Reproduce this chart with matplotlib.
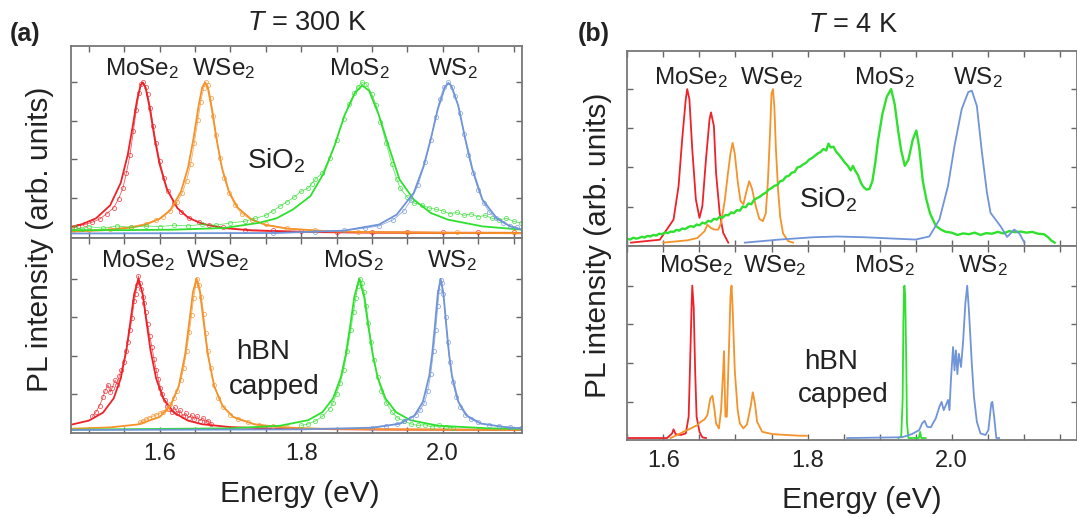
import numpy as np
import matplotlib
matplotlib.use("Agg")
import matplotlib.pyplot as plt
from matplotlib.ticker import MultipleLocator

plt.rcParams['font.family'] = ['Liberation Sans', 'DejaVu Sans']
plt.rcParams['mathtext.fontset'] = 'custom'
plt.rcParams['mathtext.rm'] = 'Liberation Sans'
plt.rcParams['mathtext.it'] = 'Liberation Sans:italic'
plt.rcParams['mathtext.bf'] = 'Liberation Sans:bold'

# ---- labels ----
materials = ['MoSe$_2$', 'WSe$_2$', 'MoS$_2$', 'WS$_2$']
colors = ['#ee2229', '#f5922a', '#2fe02f', '#7094d8']

# ---- (a) T = 300 K, on SiO2: fitted curves (energy eV, norm. intensity) ----
a_sio2_mose2_fit = [(1.474, 0.043), (1.49, 0.061), (1.51, 0.10), (1.53, 0.186), (1.545, 0.335),
                    (1.555, 0.523), (1.562, 0.712), (1.568, 0.883), (1.573, 0.981), (1.576, 1.0),
                    (1.580, 0.968), (1.586, 0.829), (1.593, 0.626), (1.60, 0.457), (1.61, 0.295),
                    (1.625, 0.168), (1.64, 0.106), (1.66, 0.064), (1.69, 0.036), (1.73, 0.020),
                    (1.80, 0.010), (1.90, 0.005), (2.0, 0.003), (2.112, 0.002)]
a_sio2_wse2_fit = [(1.474, 0.012), (1.52, 0.021), (1.56, 0.039), (1.58, 0.059), (1.60, 0.097),
                   (1.615, 0.155), (1.63, 0.276), (1.64, 0.434), (1.648, 0.633), (1.655, 0.845),
                   (1.66, 0.965), (1.664, 1.0), (1.668, 0.965), (1.674, 0.815), (1.68, 0.633),
                   (1.688, 0.434), (1.698, 0.276), (1.71, 0.172), (1.73, 0.092), (1.75, 0.056),
                   (1.78, 0.032), (1.84, 0.014), (1.90, 0.008), (2.0, 0.004), (2.112, 0.002)]
a_sio2_mos2_fit = [(1.474, 0.022), (1.55, 0.022), (1.618, 0.025), (1.691, 0.036), (1.740, 0.07),
                   (1.765, 0.10), (1.788, 0.158), (1.813, 0.247), (1.832, 0.40), (1.847, 0.58),
                   (1.861, 0.78), (1.876, 0.93), (1.886, 0.98), (1.896, 0.945), (1.910, 0.78),
                   (1.925, 0.557), (1.939, 0.357), (1.959, 0.225), (1.983, 0.136), (2.007, 0.092),
                   (2.056, 0.047), (2.112, 0.025)]
a_sio2_ws2_fit = [(1.474, 0.0), (1.764, 0.003), (1.861, 0.019), (1.910, 0.059), (1.935, 0.125),
                  (1.959, 0.269), (1.973, 0.446), (1.983, 0.623), (1.993, 0.823), (2.003, 0.967),
                  (2.008, 0.996), (2.012, 0.978), (2.022, 0.845), (2.032, 0.623), (2.042, 0.424),
                  (2.056, 0.225), (2.076, 0.103), (2.095, 0.048), (2.112, 0.025)]

# ---- (a) T = 300 K, on SiO2: measured points ----
a_sio2_mose2_data = [(1.476, 0.035), (1.485, 0.05), (1.495, 0.06), (1.505, 0.075), (1.515, 0.095),
                     (1.525, 0.13), (1.535, 0.17), (1.542, 0.23), (1.548, 0.30), (1.553, 0.40),
                     (1.558, 0.52), (1.563, 0.68), (1.567, 0.82), (1.571, 0.93), (1.574, 0.99),
                     (1.577, 1.00), (1.580, 0.97), (1.583, 0.92), (1.587, 0.83), (1.591, 0.71),
                     (1.595, 0.60), (1.600, 0.48), (1.606, 0.37), (1.612, 0.28), (1.620, 0.20),
                     (1.630, 0.145), (1.642, 0.10), (1.655, 0.075), (1.67, 0.055), (1.69, 0.04),
                     (1.72, 0.025), (1.76, 0.02), (1.80, 0.015), (1.85, 0.012), (1.90, 0.01),
                     (1.95, 0.01), (2.00, 0.008), (2.05, 0.008), (2.10, 0.007)]
a_sio2_wse2_data = [(1.476, 0.015), (1.50, 0.02), (1.53, 0.03), (1.56, 0.045), (1.58, 0.065),
                    (1.595, 0.09), (1.605, 0.11), (1.615, 0.15), (1.625, 0.21), (1.632, 0.27),
                    (1.638, 0.35), (1.644, 0.46), (1.649, 0.60), (1.654, 0.75), (1.658, 0.87),
                    (1.662, 0.96), (1.665, 1.0), (1.668, 0.98), (1.672, 0.90), (1.676, 0.78),
                    (1.680, 0.65), (1.685, 0.50), (1.691, 0.37), (1.698, 0.27), (1.706, 0.19),
                    (1.716, 0.13), (1.73, 0.09), (1.75, 0.06), (1.78, 0.035), (1.82, 0.02),
                    (1.88, 0.012), (1.95, 0.01), (2.02, 0.008), (2.10, 0.008)]
a_sio2_mos2_data = [(1.48, 0.04), (1.49, 0.03), (1.50, 0.045), (1.52, 0.035), (1.54, 0.05),
                    (1.56, 0.04), (1.58, 0.05), (1.60, 0.045), (1.62, 0.055), (1.64, 0.05),
                    (1.66, 0.06), (1.68, 0.055), (1.70, 0.07), (1.72, 0.08), (1.735, 0.10),
                    (1.75, 0.12), (1.76, 0.15), (1.77, 0.18), (1.78, 0.21), (1.79, 0.24),
                    (1.80, 0.28), (1.81, 0.30), (1.815, 0.33), (1.82, 0.36), (1.83, 0.40),
                    (1.84, 0.50), (1.85, 0.62), (1.86, 0.76), (1.868, 0.86), (1.875, 0.93),
                    (1.88, 0.97), (1.886, 1.0), (1.892, 0.99), (1.90, 0.92), (1.906, 0.85),
                    (1.912, 0.74), (1.92, 0.60), (1.928, 0.46), (1.935, 0.36), (1.94, 0.30),
                    (1.95, 0.24), (1.96, 0.20), (1.97, 0.19), (1.98, 0.17), (1.99, 0.16),
                    (2.00, 0.15), (2.01, 0.13), (2.02, 0.14), (2.03, 0.12), (2.04, 0.13),
                    (2.05, 0.11), (2.06, 0.12), (2.07, 0.10), (2.08, 0.09), (2.09, 0.10),
                    (2.10, 0.08), (2.11, 0.07)]
a_sio2_ws2_data = [(1.76, 0.005), (1.82, 0.01), (1.86, 0.02), (1.89, 0.035), (1.91, 0.05),
                   (1.93, 0.09), (1.945, 0.15), (1.955, 0.22), (1.965, 0.32), (1.975, 0.47),
                   (1.983, 0.62), (1.99, 0.77), (1.996, 0.89), (2.002, 0.97), (2.008, 1.0),
                   (2.013, 0.97), (2.018, 0.91), (2.024, 0.80), (2.03, 0.66), (2.036, 0.52),
                   (2.043, 0.40), (2.05, 0.29), (2.058, 0.20), (2.066, 0.14), (2.075, 0.10),
                   (2.085, 0.07), (2.095, 0.05), (2.105, 0.04)]

# ---- (a) T = 300 K, hBN capped: fitted curves ----
a_hbn_mose2_fit = [(1.474, 0.034), (1.50, 0.062), (1.52, 0.115), (1.535, 0.209), (1.545, 0.341),
                   (1.553, 0.529), (1.559, 0.728), (1.564, 0.90), (1.570, 1.0), (1.576, 0.90),
                   (1.581, 0.728), (1.587, 0.529), (1.595, 0.341), (1.605, 0.209), (1.62, 0.115),
                   (1.64, 0.062), (1.66, 0.038), (1.70, 0.019), (1.76, 0.009), (1.90, 0.003),
                   (2.112, 0.001)]
a_hbn_wse2_fit = [(1.474, 0.008), (1.53, 0.017), (1.57, 0.037), (1.60, 0.086), (1.615, 0.158),
                  (1.627, 0.29), (1.636, 0.5), (1.642, 0.719), (1.647, 0.911), (1.652, 1.0),
                  (1.657, 0.911), (1.662, 0.719), (1.668, 0.5), (1.677, 0.29), (1.689, 0.158),
                  (1.704, 0.086), (1.734, 0.037), (1.774, 0.017), (1.83, 0.008), (1.95, 0.003),
                  (2.112, 0.001)]
a_hbn_mos2_fit = [(1.474, 0.002), (1.70, 0.011), (1.77, 0.028), (1.81, 0.065), (1.83, 0.118),
                  (1.845, 0.209), (1.856, 0.348), (1.863, 0.5), (1.869, 0.681), (1.875, 0.88),
                  (1.882, 1.0), (1.889, 0.88), (1.895, 0.681), (1.901, 0.5), (1.908, 0.348),
                  (1.919, 0.209), (1.934, 0.118), (1.954, 0.065), (1.994, 0.028), (2.064, 0.011),
                  (2.112, 0.007)]
a_hbn_ws2_fit = [(1.474, 0.0), (1.80, 0.004), (1.90, 0.015), (1.94, 0.042), (1.96, 0.095),
                 (1.972, 0.187), (1.981, 0.36), (1.985, 0.5), (1.989, 0.692), (1.993, 0.90),
                 (1.997, 1.0), (2.001, 0.90), (2.005, 0.692), (2.009, 0.5), (2.013, 0.36),
                 (2.022, 0.187), (2.034, 0.095), (2.054, 0.042), (2.094, 0.015), (2.112, 0.012)]

# ---- (a) T = 300 K, hBN capped: measured points ----
a_hbn_mose2_data = [(1.505, 0.09), (1.51, 0.12), (1.515, 0.16), (1.52, 0.22), (1.523, 0.26),
                    (1.527, 0.30), (1.53, 0.25), (1.533, 0.28), (1.537, 0.33), (1.54, 0.30),
                    (1.543, 0.36), (1.546, 0.40), (1.549, 0.45), (1.552, 0.52), (1.555, 0.58),
                    (1.558, 0.66), (1.561, 0.74), (1.564, 0.85), (1.566, 0.90), (1.568, 0.96),
                    (1.570, 1.02), (1.572, 0.97), (1.574, 0.93), (1.576, 0.88), (1.578, 0.84),
                    (1.580, 0.78), (1.583, 0.70), (1.586, 0.62), (1.589, 0.55), (1.592, 0.47),
                    (1.595, 0.40), (1.598, 0.34), (1.601, 0.28), (1.604, 0.24), (1.607, 0.20),
                    (1.610, 0.16), (1.613, 0.14), (1.617, 0.12), (1.621, 0.15), (1.625, 0.11),
                    (1.629, 0.13), (1.633, 0.09), (1.637, 0.11), (1.641, 0.08), (1.645, 0.10),
                    (1.649, 0.07), (1.653, 0.09), (1.657, 0.06), (1.661, 0.08), (1.665, 0.05),
                    (1.669, 0.06), (1.673, 0.04)]
a_hbn_wse2_data = [(1.572, 0.05), (1.576, 0.06), (1.58, 0.07), (1.585, 0.08), (1.59, 0.09),
                   (1.595, 0.10), (1.60, 0.11), (1.605, 0.12), (1.61, 0.14), (1.615, 0.17),
                   (1.62, 0.21), (1.625, 0.26), (1.63, 0.33), (1.634, 0.41), (1.638, 0.52),
                   (1.642, 0.65), (1.645, 0.76), (1.648, 0.87), (1.651, 0.96), (1.653, 1.0),
                   (1.656, 0.96), (1.659, 0.88), (1.662, 0.77), (1.665, 0.64), (1.668, 0.52),
                   (1.672, 0.41), (1.677, 0.30), (1.683, 0.21), (1.69, 0.15), (1.70, 0.10),
                   (1.71, 0.07), (1.725, 0.05), (1.74, 0.035), (1.76, 0.025), (1.78, 0.02)]
a_hbn_mos2_data = [(1.80, 0.03), (1.81, 0.04), (1.82, 0.06), (1.83, 0.09), (1.84, 0.14),
                   (1.845, 0.18), (1.85, 0.24), (1.855, 0.31), (1.86, 0.40), (1.865, 0.52),
                   (1.87, 0.66), (1.874, 0.78), (1.877, 0.87), (1.88, 0.95), (1.883, 1.0),
                   (1.886, 0.97), (1.889, 0.91), (1.892, 0.82), (1.895, 0.71), (1.899, 0.58),
                   (1.903, 0.46), (1.908, 0.35), (1.913, 0.26), (1.92, 0.18), (1.928, 0.12),
                   (1.936, 0.08), (1.945, 0.06), (1.955, 0.04), (1.965, 0.03), (1.975, 0.035),
                   (1.985, 0.02), (1.995, 0.03), (2.005, 0.02), (2.015, 0.015)]
a_hbn_ws2_data = [(1.90, 0.015), (1.92, 0.025), (1.935, 0.04), (1.945, 0.06), (1.955, 0.08),
                  (1.962, 0.10), (1.968, 0.13), (1.974, 0.18), (1.979, 0.26), (1.983, 0.37),
                  (1.987, 0.52), (1.99, 0.66), (1.993, 0.82), (1.995, 0.92), (1.997, 0.99),
                  (1.999, 0.97), (2.001, 0.90), (2.004, 0.75), (2.007, 0.58), (2.01, 0.45),
                  (2.014, 0.32), (2.019, 0.22), (2.025, 0.15), (2.032, 0.10), (2.04, 0.07),
                  (2.05, 0.05), (2.065, 0.035), (2.08, 0.025), (2.095, 0.02), (2.11, 0.015)]

# ---- (b) T = 4 K, on SiO2 ----
b_sio2_mose2 = [(1.555, 0.0), (1.595, 0.019), (1.614, 0.15), (1.621, 0.368), (1.626, 0.673),
                (1.631, 0.935), (1.633, 1.0), (1.636, 0.935), (1.640, 0.608), (1.645, 0.281),
                (1.650, 0.161), (1.654, 0.237), (1.659, 0.542), (1.664, 0.804), (1.666, 0.848),
                (1.670, 0.76), (1.673, 0.455), (1.678, 0.194), (1.683, 0.063), (1.690, 0.0)]
b_sio2_wse2 = [(1.600, 0.0), (1.633, 0.015), (1.647, 0.03), (1.657, 0.074), (1.661, 0.117),
               (1.666, 0.095), (1.671, 0.085), (1.676, 0.085), (1.680, 0.128), (1.685, 0.27),
               (1.689, 0.43), (1.693, 0.58), (1.696, 0.65), (1.699, 0.58), (1.703, 0.40),
               (1.707, 0.27), (1.711, 0.25), (1.715, 0.33), (1.719, 0.40), (1.723, 0.35),
               (1.728, 0.24), (1.733, 0.155), (1.738, 0.14), (1.742, 0.19), (1.745, 0.40),
               (1.748, 0.72), (1.750, 0.97), (1.752, 1.0), (1.754, 0.88), (1.756, 0.62),
               (1.759, 0.35), (1.762, 0.17), (1.766, 0.06), (1.773, 0.01), (1.780, 0.0)]
b_sio2_mos2 = [(1.550, 0.024), (1.554, 0.02), (1.558, 0.032), (1.562, 0.026), (1.566, 0.03),
               (1.570, 0.038), (1.574, 0.033), (1.578, 0.044), (1.582, 0.04), (1.586, 0.05),
               (1.590, 0.046), (1.594, 0.058), (1.598, 0.055), (1.602, 0.066), (1.606, 0.062),
               (1.610, 0.072), (1.614, 0.07), (1.618, 0.083), (1.622, 0.078), (1.626, 0.092),
               (1.630, 0.088), (1.634, 0.10), (1.638, 0.108), (1.642, 0.102), (1.646, 0.118),
               (1.650, 0.113), (1.654, 0.13), (1.658, 0.124), (1.662, 0.142), (1.666, 0.137),
               (1.670, 0.155), (1.674, 0.15), (1.678, 0.168), (1.682, 0.162), (1.686, 0.18),
               (1.690, 0.178), (1.694, 0.197), (1.698, 0.192), (1.702, 0.212), (1.706, 0.208),
               (1.710, 0.235), (1.714, 0.23), (1.718, 0.255), (1.722, 0.25), (1.726, 0.28),
               (1.730, 0.29), (1.734, 0.30), (1.738, 0.315), (1.742, 0.325), (1.746, 0.345),
               (1.750, 0.355), (1.754, 0.37), (1.758, 0.375), (1.762, 0.40), (1.766, 0.405),
               (1.770, 0.43), (1.774, 0.435), (1.778, 0.455), (1.782, 0.46), (1.786, 0.49),
               (1.790, 0.495), (1.794, 0.51), (1.798, 0.52), (1.802, 0.54), (1.806, 0.55),
               (1.810, 0.565), (1.814, 0.58), (1.818, 0.59), (1.822, 0.61), (1.826, 0.60),
               (1.829, 0.645), (1.832, 0.62), (1.836, 0.625), (1.840, 0.59), (1.844, 0.57),
               (1.848, 0.545), (1.852, 0.52), (1.856, 0.50), (1.860, 0.47), (1.863, 0.50),
               (1.866, 0.47), (1.870, 0.44), (1.874, 0.39), (1.878, 0.36), (1.882, 0.345),
               (1.886, 0.35), (1.890, 0.40), (1.894, 0.52), (1.898, 0.67), (1.904, 0.84),
               (1.910, 0.95), (1.916, 1.0), (1.921, 0.90), (1.926, 0.72), (1.930, 0.60),
               (1.935, 0.50), (1.940, 0.54), (1.946, 0.67), (1.951, 0.73), (1.955, 0.62),
               (1.960, 0.40), (1.965, 0.28), (1.970, 0.19), (1.978, 0.11), (1.985, 0.085),
               (1.992, 0.07), (2.000, 0.065), (2.008, 0.05), (2.016, 0.06), (2.024, 0.055),
               (2.032, 0.065), (2.040, 0.05), (2.048, 0.062), (2.056, 0.058), (2.064, 0.07),
               (2.072, 0.06), (2.080, 0.075), (2.088, 0.068), (2.096, 0.072), (2.104, 0.065),
               (2.112, 0.07), (2.120, 0.058), (2.128, 0.055), (2.134, 0.035), (2.138, 0.015),
               (2.143, 0.0)]
b_sio2_ws2 = [(1.713, 0.0), (1.737, 0.01), (1.761, 0.02), (1.808, 0.035), (1.841, 0.04),
              (1.879, 0.035), (1.926, 0.025), (1.950, 0.02), (1.969, 0.04), (1.983, 0.15),
              (1.995, 0.37), (2.004, 0.63), (2.014, 0.87), (2.023, 0.98), (2.028, 0.99),
              (2.035, 0.89), (2.042, 0.59), (2.049, 0.326), (2.054, 0.194), (2.061, 0.15),
              (2.068, 0.106), (2.077, 0.037), (2.087, 0.085), (2.094, 0.06), (2.101, 0.0)]

# ---- (b) T = 4 K, hBN capped ----
b_hbn_mose2 = [(1.548, 0.0), (1.605, 0.0), (1.612, 0.03), (1.614, 0.057), (1.617, 0.025),
               (1.624, 0.02), (1.631, 0.03), (1.635, 0.14), (1.637, 0.49), (1.639, 0.858),
               (1.640, 1.0), (1.642, 0.858), (1.644, 0.444), (1.646, 0.14), (1.650, 0.041),
               (1.654, 0.004), (1.659, 0.0)]
b_hbn_wse2 = [(1.610, 0.0), (1.619, 0.02), (1.628, 0.041), (1.638, 0.063), (1.647, 0.085),
              (1.652, 0.107), (1.657, 0.122), (1.661, 0.15), (1.665, 0.26), (1.668, 0.277),
              (1.671, 0.18), (1.673, 0.096), (1.677, 0.063), (1.680, 0.183), (1.683, 0.45),
              (1.684, 0.57), (1.686, 0.14), (1.688, 0.14), (1.691, 0.597), (1.693, 0.924),
              (1.6945, 1.0), (1.696, 0.858), (1.699, 0.444), (1.703, 0.183), (1.706, 0.096),
              (1.711, 0.063), (1.716, 0.09), (1.721, 0.205), (1.724, 0.30), (1.727, 0.227),
              (1.730, 0.107), (1.737, 0.041), (1.751, 0.026), (1.770, 0.02), (1.789, 0.015),
              (1.799, 0.015)]
b_hbn_mos2 = [(1.926, 0.0), (1.930, 0.01), (1.932, 0.25), (1.933, 0.75), (1.934, 0.99),
              (1.9346, 1.0), (1.9356, 0.93), (1.937, 0.5), (1.938, 0.1), (1.940, 0.0),
              (1.9545, 0.0), (1.9563, 0.04), (1.9578, 0.0), (1.964, 0.0)]
b_hbn_ws2 = [(1.855, 0.0), (1.903, 0.003), (1.931, 0.005), (1.945, 0.026), (1.955, 0.052),
             (1.959, 0.096), (1.9625, 0.113), (1.966, 0.074), (1.971, 0.07), (1.978, 0.129),
             (1.983, 0.205), (1.986, 0.237), (1.989, 0.183), (1.992, 0.216), (1.995, 0.25),
             (1.997, 0.183), (1.999, 0.379), (2.002, 0.597), (2.004, 0.444), (2.006, 0.575),
             (2.008, 0.42), (2.010, 0.553), (2.013, 0.466), (2.016, 0.64), (2.019, 0.88),
             (2.0216, 1.0), (2.024, 0.836), (2.028, 0.488), (2.031, 0.27), (2.035, 0.107),
             (2.040, 0.03), (2.047, 0.02), (2.051, 0.052), (2.055, 0.227), (2.0565, 0.237),
             (2.059, 0.14), (2.062, 0.0), (2.066, 0.0)]


def xy(pairs):
    arr = np.array(pairs)
    return arr[:, 0], arr[:, 1]


W, H = 1077, 517
fig = plt.figure(figsize=(W / 100, H / 100), dpi=100)


def box(x0, y_top, x1, y_bot):
    return [x0 / W, 1 - y_bot / H, (x1 - x0) / W, (y_bot - y_top) / H]


yticks = [0.235, 0.49, 0.745, 1.0]


def style(ax, xlim, ylim, show_x=False):
    ax.set_xlim(xlim)
    ax.set_ylim(ylim)
    ax.xaxis.set_major_locator(MultipleLocator(0.2))
    ax.xaxis.set_minor_locator(MultipleLocator(0.05))
    ax.set_yticks(yticks)
    ax.tick_params(which='both', direction='in', top=True, right=True, length=4,
                   width=1, color='#666', labelleft=False, labelsize=17, pad=7,
                   labelcolor='#222', labelbottom=show_x)
    for s in ax.spines.values():
        s.set_color('#777')
        s.set_linewidth(1.3)


def labels(ax, xs, y):
    for x, name in zip(xs, materials):
        ax.text(x, y, name, ha='center', va='center', fontsize=17.5, color='#222')


data_kw = dict(lw=0.6, alpha=0.75, marker='o', ms=3, mfc='none', mew=0.6)

# ---------------- panel (a) ----------------
ax1 = fig.add_axes(box(70.5, 45.7, 522, 238))
ax2 = fig.add_axes(box(70.5, 238, 522, 433))

for d, f, c in zip([a_sio2_mose2_data, a_sio2_wse2_data, a_sio2_mos2_data, a_sio2_ws2_data],
                   [a_sio2_mose2_fit, a_sio2_wse2_fit, a_sio2_mos2_fit, a_sio2_ws2_fit], colors):
    ax1.plot(*xy(d), color=c, **data_kw)
    ax1.plot(*xy(f), color=c, lw=1.3)
for d, f, c in zip([a_hbn_mose2_data, a_hbn_wse2_data, a_hbn_mos2_data, a_hbn_ws2_data],
                   [a_hbn_mose2_fit, a_hbn_wse2_fit, a_hbn_mos2_fit, a_hbn_ws2_fit], colors):
    ax2.plot(*xy(d), color=c, **data_kw)
    ax2.plot(*xy(f), color=c, lw=1.3)

style(ax1, (1.474, 2.112), (-0.03, 1.243))
style(ax2, (1.474, 2.112), (-0.02, 1.27), show_x=True)
labels(ax1, [1.575, 1.691, 1.882, 2.015], 1.09)
labels(ax2, [1.569, 1.682, 1.874, 2.013], 1.12)
ax1.text(1.764, 0.48, 'SiO$_2$', ha='center', va='center', fontsize=20, color='#222')
ax2.text(1.746, 0.515, 'hBN', ha='center', va='center', fontsize=20, color='#222')
ax2.text(1.762, 0.282, 'capped', ha='center', va='center', fontsize=20, color='#222')

# ---------------- panel (b) ----------------
ax3 = fig.add_axes(box(626.7, 50.7, 1077, 245.7))
ax4 = fig.add_axes(box(626.7, 245.7, 1077, 440))

for s, c in zip([b_sio2_mose2, b_sio2_wse2, b_sio2_mos2, b_sio2_ws2], colors):
    ax3.plot(*xy(s), color=c, lw=1.7 if c == colors[2] else 1.3)
for s, c in zip([b_hbn_mose2, b_hbn_wse2, b_hbn_mos2, b_hbn_ws2], colors):
    ax4.plot(*xy(s), color=c, lw=1.3)

style(ax3, (1.549, 2.174), (-0.02, 1.25))
style(ax4, (1.549, 2.174), (-0.013, 1.262), show_x=True)
labels(ax3, [1.638, 1.750, 1.906, 2.036], 1.077)
labels(ax4, [1.646, 1.754, 1.907, 2.044], 1.131)
ax3.text(1.829, 0.281, 'SiO$_2$', ha='center', va='center', fontsize=20, color='#222')
ax4.text(1.8325, 0.499, 'hBN', ha='center', va='center', fontsize=20, color='#222')
ax4.text(1.849, 0.281, 'capped', ha='center', va='center', fontsize=20, color='#222')

# ---------------- figure texts ----------------
fig.text(307 / W, 1 - 23 / H, r'$T$ = 300 K', ha='center', va='center', fontsize=19.5, color='#222')
fig.text(853 / W, 1 - 25 / H, r'$T$ = 4 K', ha='center', va='center', fontsize=19.5, color='#222')
fig.text(25 / W, 1 - 34 / H, '(a)', ha='center', va='center', fontsize=18, fontweight='bold', color='#222')
fig.text(594 / W, 1 - 34 / H, '(b)', ha='center', va='center', fontsize=18, fontweight='bold', color='#222')
fig.text(40 / W, 1 - 239 / H, 'PL intensity (arb. units)', rotation=90, ha='center', va='center',
         fontsize=21.5, color='#222')
fig.text(598 / W, 1 - 245 / H, 'PL intensity (arb. units)', rotation=90, ha='center', va='center',
         fontsize=21.5, color='#222')
fig.text(300 / W, 1 - 494 / H, 'Energy (eV)', ha='center', va='center', fontsize=21.5, color='#222')
fig.text(862 / W, 1 - 500 / H, 'Energy (eV)', ha='center', va='center', fontsize=21.5, color='#222')

fig.savefig('out.png', dpi=100)
